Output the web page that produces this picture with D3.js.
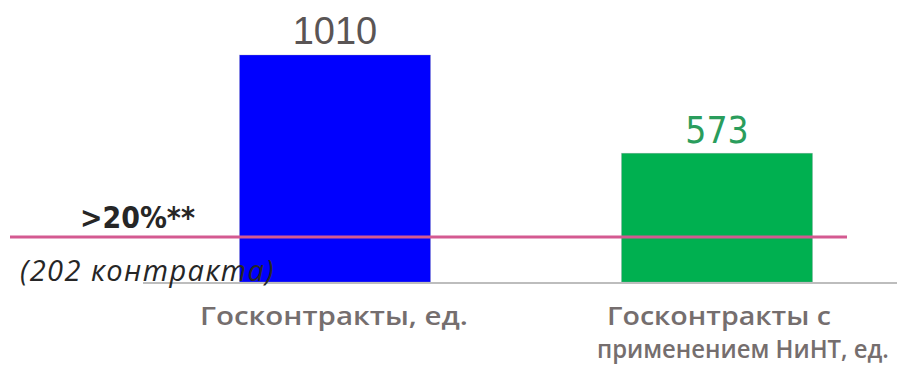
<!DOCTYPE html>
<html><head><meta charset="utf-8">
<script src="https://cdn.jsdelivr.net/npm/d3@7"></script>
<style>body{margin:0;background:#fff}svg{display:block}</style>
</head><body>
<svg id="c" width="897" height="369"></svg>
<script>
const categories = ["Госконтракты, ед.", "Госконтракты с применением НиНТ, ед."];
const labelLines = [["Госконтракты, ед."], ["Госконтракты с", "применением НиНТ, ед."]];
const values = [1010, 573];
const barColors = ["#0000ff", "#00b050"];
const valueColors = ["#5a5555", "#2a9d5c"];
const thresholdValue = 202;
const thresholdLabel = ">20%**";
const thresholdNote = "(202 контракта)";

const svg = d3.select("#c");
const x = d3.scaleBand().domain(categories).range([144, 908]).paddingInner(0.5).paddingOuter(0.25);
const y = d3.scaleLinear().domain([0, 1010]).range([282, 55]);

function fit(sel, targetW, maxSize) {
  const w = sel.node().getComputedTextLength();
  const fs = +sel.attr("font-size");
  sel.attr("font-size", Math.min(maxSize, fs * targetW / w));
}
function spread(sel, targetW, n) {
  sel.attr("letter-spacing", 0);
  const w = sel.node().getComputedTextLength();
  sel.attr("letter-spacing", (targetW - w) / n);
}

svg.selectAll("rect.bar").data(values).join("rect")
  .attr("class","bar")
  .attr("x",(d,i)=>x(categories[i]))
  .attr("y",d=>y(d))
  .attr("width",x.bandwidth())
  .attr("height",d=>y(0)-y(d))
  .attr("fill",(d,i)=>barColors[i])
  .attr("stroke","#9a9aa8").attr("stroke-width",0.6).attr("stroke-opacity",0.5);

// baseline
svg.append("line").attr("x1",143).attr("x2",897).attr("y1",y(0)+1).attr("y2",y(0)+1)
  .attr("stroke","#bdbdbd").attr("stroke-width",2);

// threshold line
svg.append("line").attr("x1",10).attr("x2",847).attr("y1",y(thresholdValue)+0.5).attr("y2",y(thresholdValue)+0.5)
  .attr("stroke","#d45a91").attr("stroke-width",3);

// value labels
svg.append("text").attr("x",x(categories[0])+x.bandwidth()/2).attr("y",y(values[0])-11)
  .attr("text-anchor","middle").attr("font-family","'Liberation Sans', Arial, sans-serif")
  .attr("font-size",38).attr("fill",valueColors[0]).text(values[0]);
svg.append("text").attr("x",x(categories[1])+x.bandwidth()/2).attr("y",y(values[1])-10)
  .attr("text-anchor","middle").attr("font-family","'DejaVu Sans Condensed', 'DejaVu Sans', sans-serif")
  .attr("font-stretch","condensed")
  .attr("font-size",37).attr("fill",valueColors[1]).text(values[1]);

// threshold texts
const tl = svg.append("text").attr("x",80).attr("y",228)
  .attr("font-family","'DejaVu Sans Condensed', 'DejaVu Sans', sans-serif").attr("font-stretch","condensed")
  .attr("font-weight","bold").attr("font-size",28).attr("fill","#262626").text(thresholdLabel);
fit(tl, 115, 31);
const tn = svg.append("text").attr("x",20).attr("y",281)
  .attr("font-family","'Open Sans', sans-serif").attr("font-style","italic")
  .attr("font-size",29).attr("fill","#262626").text(thresholdNote);
spread(tn, 255, thresholdNote.length);

// category labels
const starts = [[200],[607,597]];
const widths = [[268],[224,292]];
const baselines = [[325],[325,358]];
const labelSize = 26;
labelLines.forEach((lines,i)=>{
  lines.forEach((ln,j)=>{
    const t = svg.append("text").attr("x",0).attr("y",0)
      .attr("font-family","'Open Sans', sans-serif")
      .attr("font-weight",600).attr("font-size",labelSize).attr("fill","#756e6e").text(ln);
    const w = t.node().getComputedTextLength();
    t.attr("transform",`translate(${starts[i][j]},${baselines[i][j]}) scale(${widths[i][j]/w},1)`);
  });
});
</script>
</body></html>
